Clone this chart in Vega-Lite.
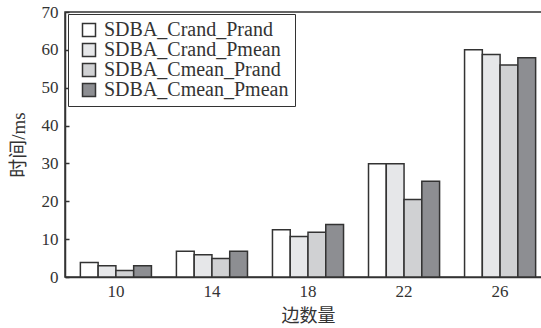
{
  "$schema": "https://vega.github.io/schema/vega-lite/v6.json",
  "autosize": "none",
  "padding": {"left": 65, "top": 12, "right": 0, "bottom": 51},
  "width": 486,
  "height": 265,
  "background": "white",
  "config": {
    "view": {"stroke": "#333", "strokeWidth": 1.5},
    "font": "Liberation Serif",
    "axis": {"labelFont": "Liberation Serif", "labelColor": "#333", "titleColor": "#333", "domainColor": "#333", "tickColor": "#333", "grid": false}
  },
  "data": {
    "values": [
      {"edges": "10", "method": "SDBA_Crand_Prand", "time": 3.8},
      {"edges": "10", "method": "SDBA_Crand_Pmean", "time": 3.0},
      {"edges": "10", "method": "SDBA_Cmean_Prand", "time": 1.7},
      {"edges": "10", "method": "SDBA_Cmean_Pmean", "time": 3.0},
      {"edges": "14", "method": "SDBA_Crand_Prand", "time": 6.8},
      {"edges": "14", "method": "SDBA_Crand_Pmean", "time": 5.9},
      {"edges": "14", "method": "SDBA_Cmean_Prand", "time": 4.9},
      {"edges": "14", "method": "SDBA_Cmean_Pmean", "time": 6.8},
      {"edges": "18", "method": "SDBA_Crand_Prand", "time": 12.5},
      {"edges": "18", "method": "SDBA_Crand_Pmean", "time": 10.7},
      {"edges": "18", "method": "SDBA_Cmean_Prand", "time": 11.8},
      {"edges": "18", "method": "SDBA_Cmean_Pmean", "time": 13.9},
      {"edges": "22", "method": "SDBA_Crand_Prand", "time": 29.9},
      {"edges": "22", "method": "SDBA_Crand_Pmean", "time": 29.9},
      {"edges": "22", "method": "SDBA_Cmean_Prand", "time": 20.5},
      {"edges": "22", "method": "SDBA_Cmean_Pmean", "time": 25.3},
      {"edges": "26", "method": "SDBA_Crand_Prand", "time": 60.0},
      {"edges": "26", "method": "SDBA_Crand_Pmean", "time": 58.8},
      {"edges": "26", "method": "SDBA_Cmean_Prand", "time": 56.0},
      {"edges": "26", "method": "SDBA_Cmean_Pmean", "time": 57.9}
    ]
  },
  "mark": {"type": "bar", "stroke": "#333", "strokeWidth": 1.5},
  "encoding": {
    "x": {
      "field": "edges", "type": "nominal", "sort": null,
      "scale": {"paddingInner": 0.26, "paddingOuter": 0.16},
      "axis": {"title": "边数量", "titleFont": "Liberation Serif, Noto Sans CJK SC", "titleFontSize": 18, "titleFontWeight": "normal", "titlePadding": 8, "labelAngle": 0, "labelFontSize": 17, "labelPadding": 6, "ticks": false, "domainWidth": 1.5}
    },
    "xOffset": {
      "field": "method", "type": "nominal", "sort": null,
      "scale": {"paddingInner": 0, "paddingOuter": 0}
    },
    "y": {
      "field": "time", "type": "quantitative",
      "scale": {"domain": [0, 70], "nice": false},
      "axis": {"title": "时间/ms", "titleFont": "Liberation Serif, Noto Sans CJK SC", "titleFontSize": 19, "titleFontWeight": "normal", "titlePadding": 13, "values": [0, 10, 20, 30, 40, 50, 60, 70], "labelFontSize": 17, "tickSize": -4, "tickWidth": 1.5, "labelPadding": 11, "domainWidth": 1.5}
    },
    "fill": {
      "field": "method", "type": "nominal", "sort": null,
      "scale": {
        "domain": ["SDBA_Crand_Prand", "SDBA_Crand_Pmean", "SDBA_Cmean_Prand", "SDBA_Cmean_Pmean"],
        "range": ["#ffffff", "#e6e7e9", "#d0d1d3", "#8d8e92"]
      },
      "legend": {
        "title": null,
        "orient": "none",
        "legendX": 3,
        "legendY": 2,
        "strokeColor": "#333",
        "fillColor": "white",
        "padding": 6,
        "symbolType": "square",
        "symbolSize": 169,
        "symbolOffset": 5,
        "symbolStrokeColor": "#333",
        "symbolStrokeWidth": 1.5,
        "labelFont": "Liberation Serif",
        "labelFontSize": 20,
        "labelLimit": 0,
        "labelColor": "#333",
        "rowPadding": 0,
        "labelOffset": 5
      }
    }
  }
}
